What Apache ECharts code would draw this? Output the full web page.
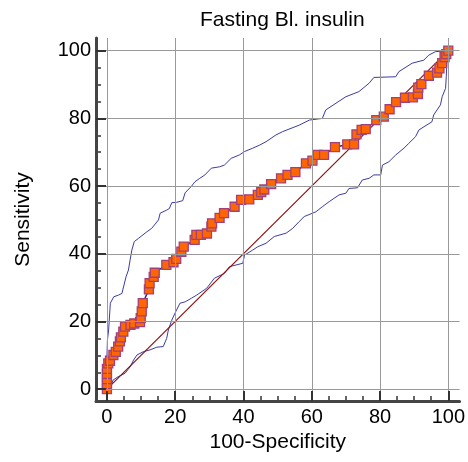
<!DOCTYPE html>
<html><head><meta charset="utf-8">
<script src="https://cdn.jsdelivr.net/npm/echarts@6/dist/echarts.min.js"></script>
<style>html,body{margin:0;padding:0;background:#fff}#c{width:468px;height:462px}</style>
</head><body><div id="c"></div>
<script>
const rocX = [0,0,0,0,0,0.4,0.9,1.9,2.6,3.3,3.8,4.1,4.8,5.3,6.9,8,9.7,9.9,10.2,10.5,12.3,12.5,13.7,14,17.4,19.5,20.3,21.8,22.5,25.7,26.2,27.5,29.3,30.6,30.8,33,34.3,37.4,39.3,41.7,44.2,45.2,46.1,48.1,51,52.9,55.2,58.3,60.2,61.7,63.6,66.8,70.4,72.4,73.1,74.6,75.8,78.9,81.1,82.8,84.7,87.3,89.6,91.1,91.2,92.1,94.3,96.7,97.4,98.2,98.9,99.4,100];
const rocY = [0,1.5,3,4.5,6,7.6,8.4,10.1,11,12.6,14.1,15.3,17,18.5,19,19.4,19.8,21,23,25.4,29.5,31.3,33.2,34.4,36.7,37.5,38.5,40.6,42.1,44.1,45.6,45.6,46,48,49,50.6,52,53.9,55.9,56.1,57.4,58.2,59,60.6,62.3,63.3,64.1,66.7,67.5,69.2,69.2,71.5,72.3,72.3,75.3,76.6,76.8,79.5,80.5,82.7,84.8,86.1,86.2,87.2,89.1,90.1,92.6,93.5,94.8,96.3,98.1,99,100];
const upperX = [0,0,0.15,0.5,1,2,3.4,4.4,5.6,6.3,6.8,7.3,8,9.3,11.7,13.1,15.1,15.6,17.5,18.3,19,20.4,22.2,22.9,24.8,25.8,27.2,28.7,30.6,33,34.4,36.4,38.8,40.3,42.7,44.7,46.6,49.5,51.5,56.3,59.3,63.1,64.1,70,73.8,76.8,78.2,84.6,85.5,89.4,92.8,94.3,96.2,99.6,100];
const upperY = [0,9.6,14.5,17.5,25.4,27.3,27.8,28.3,33.2,35.2,38.2,41.1,43.6,44.6,46.5,47.5,50,52,52.9,53.4,55.1,55.2,55.7,58,60,61.3,62.3,63.3,65.3,65.7,66.2,68.2,69.2,70.2,71.2,72.1,73.1,75.1,76.1,78,79.5,80,82.5,86.4,87.9,90.4,92.1,92.3,93.8,96.3,97.2,98.7,99.7,100,100];
const lowerX = [0,1,1.8,3.3,5.3,6.8,7.8,8.8,10.7,12.6,14.6,16.5,17.5,18,19,19.9,20.4,21.4,22.9,24.8,26.3,29.2,31.5,34.4,35.9,39.8,40.3,42.7,44.2,46.6,49,52.5,54.4,56.3,57.8,61.2,63.1,65.1,68,70,70.9,73.4,74.8,76.8,78.2,80.2,80.7,82.6,84.6,87,88.4,90.4,91.4,95.2,95.7,96.7,97.7,98.2,99.2,99.4,99.6,99.8,100];
const lowerY = [0,0.3,2.7,3.7,4.7,6.6,8.6,10.1,11.1,11.6,12.4,12.6,15,17.5,20.4,22.4,23.4,25.4,25.8,26.9,27.8,29.8,32.8,34.2,36.2,37.2,39.6,41.1,42.1,43.1,45.1,46.1,47.5,49.5,51,52.4,53.9,55.4,57.4,57.9,59.3,59.5,61.8,62.3,63.3,63.3,66.2,67.2,69.2,71.2,72.6,74.6,76.6,79,81,82.5,84,86.4,88.9,92.3,97.3,99.7,100];
const diagX = [0,100];
const diagY = [0,100];
const majorTicks = [0,20,40,60,80,100];
const minorTicks = [5,10,15,25,30,35,45,50,55,65,70,75,85,90,95];
const titleText = 'Fasting Bl. insulin';
const xName = '100-Specificity';
const yName = 'Sensitivity';

const zip = (xs, ys) => xs.map((x, i) => [x, ys[i]]);
const FONT = 'Liberation Sans';
const XMIN = -3.2, XMAX = 103.3, YMIN = -3.49, YMAX = 103.75;

function mainAxis(isX) {
  return {
    type: 'value', min: isX ? XMIN : YMIN, max: isX ? XMAX : YMAX,
    position: isX ? 'bottom' : 'left',
    name: isX ? xName : yName, nameLocation: 'middle',
    nameGap: isX ? 27 : 62,
    nameTextStyle: {fontFamily: FONT, fontSize: 21, color: '#000'},
    axisLine: {show: true, onZero: false, lineStyle: {color: '#444', width: 3}},
    axisTick: {show: true, inside: true, length: 10, customValues: majorTicks, lineStyle: {color: '#333', width: 2}},
    axisLabel: {show: true, customValues: majorTicks, fontFamily: FONT, fontSize: 20, color: '#000', margin: isX ? 6 : 5},
    splitLine: {show: true, customValues: majorTicks, lineStyle: {color: '#999', width: 1}},
    z: 5
  };
}
function minorAxis(isX) {
  return {
    type: 'value', min: isX ? XMIN : YMIN, max: isX ? XMAX : YMAX,
    position: isX ? 'bottom' : 'left',
    axisLine: {show: false, onZero: false},
    axisTick: {show: true, inside: true, length: 5, customValues: minorTicks, lineStyle: {color: '#333', width: 1.5}},
    axisLabel: {show: false},
    splitLine: {show: false}
  };
}

const chart = echarts.init(document.getElementById('c'), null, {renderer: 'canvas'});
chart.setOption({
  animation: false,
  backgroundColor: '#fff',
  title: {text: titleText, left: 195, top: 5, textStyle: {fontFamily: FONT, fontSize: 21, fontWeight: 'normal', color: '#000'}},
  grid: {left: 96, right: 7, top: 38, bottom: 61, containLabel: false},
  xAxis: [mainAxis(true), minorAxis(true)],
  yAxis: [mainAxis(false), minorAxis(false)],
  series: [
    {type: 'line', data: zip(upperX, upperY), showSymbol: false, symbol: 'none', lineStyle: {color: '#3b3ba6', width: 1}, silent: true, z: 2},
    {type: 'line', data: zip(lowerX, lowerY), showSymbol: false, symbol: 'none', lineStyle: {color: '#3b3ba6', width: 1}, silent: true, z: 2},
    {type: 'line', data: zip(diagX, diagY), showSymbol: false, symbol: 'none', lineStyle: {color: '#8b1010', width: 1.2}, silent: true, z: 3},
    {type: 'line', data: zip(rocX, rocY), symbol: 'rect', symbolSize: 9, showAllSymbol: true,
      lineStyle: {color: '#2a2a8f', width: 1.5},
      itemStyle: {color: '#ff6600', borderColor: '#a3407a', borderWidth: 1.3},
      silent: true, z: 4}
  ]
});
</script>
</body></html>
